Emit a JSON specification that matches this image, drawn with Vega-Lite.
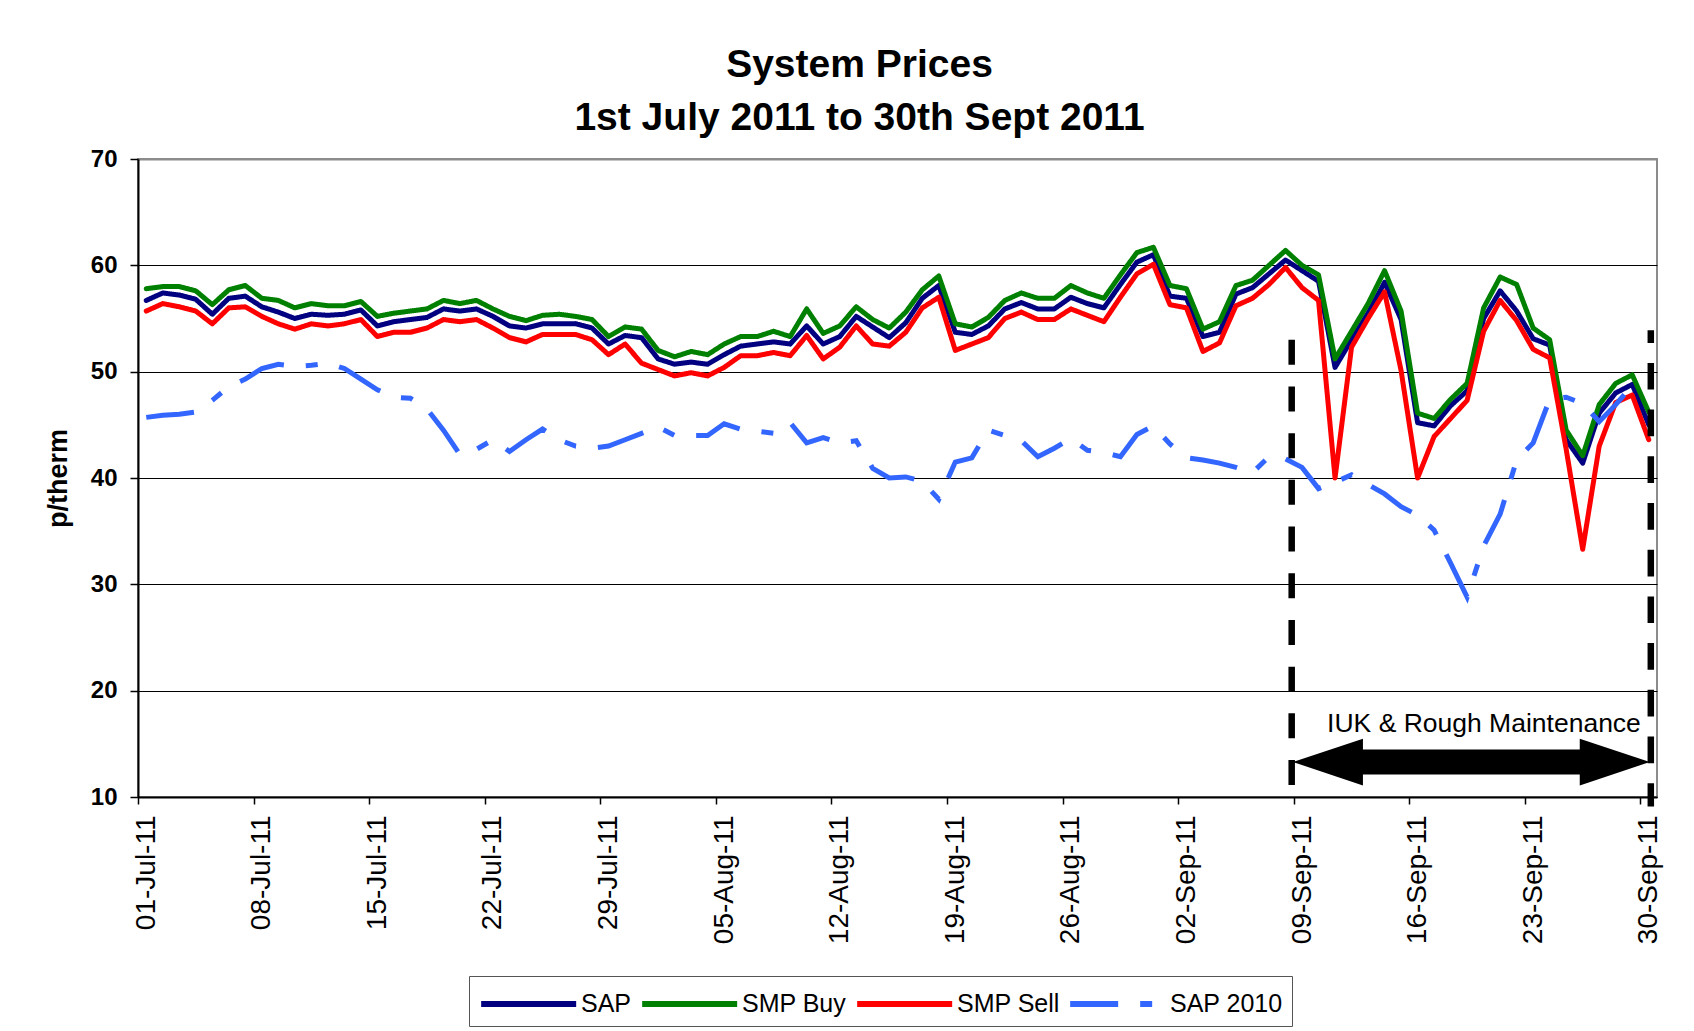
{
  "$schema": "https://vega.github.io/schema/vega-lite/v6.json",
  "width": 1519,
  "height": 638,
  "autosize": "none",
  "padding": {"left": 138, "top": 159, "right": 37, "bottom": 234},
  "background": "white",
  "config": {
    "font": "Liberation Sans",
    "view": {"stroke": "#8c8c8c", "strokeWidth": 2}
  },
  "title": {
    "text": ["System Prices", "1st July 2011 to 30th Sept 2011"],
    "font": "Liberation Sans",
    "fontSize": 39,
    "fontWeight": "bold",
    "color": "black",
    "anchor": "middle",
    "dx": -38,
    "offset": 9,
    "lineHeight": 53
  },
  "datasets": {
    "prices": [
      {"date": "2011-07-01", "SAP": 56.7, "SMP Buy": 57.8, "SMP Sell": 55.7, "SAP 2010": 45.7},
      {"date": "2011-07-02", "SAP": 57.4, "SMP Buy": 58.0, "SMP Sell": 56.4, "SAP 2010": 45.9},
      {"date": "2011-07-03", "SAP": 57.2, "SMP Buy": 58.0, "SMP Sell": 56.1, "SAP 2010": 46.0},
      {"date": "2011-07-04", "SAP": 56.8, "SMP Buy": 57.6, "SMP Sell": 55.7, "SAP 2010": 46.2},
      {"date": "2011-07-05", "SAP": 55.4, "SMP Buy": 56.3, "SMP Sell": 54.5, "SAP 2010": 47.3},
      {"date": "2011-07-06", "SAP": 56.9, "SMP Buy": 57.7, "SMP Sell": 56.0, "SAP 2010": 48.6},
      {"date": "2011-07-07", "SAP": 57.1, "SMP Buy": 58.1, "SMP Sell": 56.1, "SAP 2010": 49.3},
      {"date": "2011-07-08", "SAP": 56.1, "SMP Buy": 56.9, "SMP Sell": 55.2, "SAP 2010": 50.3},
      {"date": "2011-07-09", "SAP": 55.6, "SMP Buy": 56.7, "SMP Sell": 54.5, "SAP 2010": 50.7},
      {"date": "2011-07-10", "SAP": 55.0, "SMP Buy": 56.0, "SMP Sell": 54.0, "SAP 2010": 50.5},
      {"date": "2011-07-11", "SAP": 55.4, "SMP Buy": 56.4, "SMP Sell": 54.5, "SAP 2010": 50.6},
      {"date": "2011-07-12", "SAP": 55.3, "SMP Buy": 56.2, "SMP Sell": 54.3, "SAP 2010": 50.8},
      {"date": "2011-07-13", "SAP": 55.4, "SMP Buy": 56.2, "SMP Sell": 54.5, "SAP 2010": 50.3},
      {"date": "2011-07-14", "SAP": 55.8, "SMP Buy": 56.6, "SMP Sell": 54.9, "SAP 2010": 49.3},
      {"date": "2011-07-15", "SAP": 54.3, "SMP Buy": 55.2, "SMP Sell": 53.3, "SAP 2010": 48.3},
      {"date": "2011-07-16", "SAP": 54.7, "SMP Buy": 55.5, "SMP Sell": 53.7, "SAP 2010": 47.6},
      {"date": "2011-07-17", "SAP": 54.9, "SMP Buy": 55.7, "SMP Sell": 53.7, "SAP 2010": 47.5},
      {"date": "2011-07-18", "SAP": 55.1, "SMP Buy": 55.9, "SMP Sell": 54.1, "SAP 2010": 46.5},
      {"date": "2011-07-19", "SAP": 55.9, "SMP Buy": 56.7, "SMP Sell": 54.9, "SAP 2010": 44.5},
      {"date": "2011-07-20", "SAP": 55.7, "SMP Buy": 56.4, "SMP Sell": 54.7, "SAP 2010": 42.2},
      {"date": "2011-07-21", "SAP": 55.9, "SMP Buy": 56.7, "SMP Sell": 54.9, "SAP 2010": 42.7},
      {"date": "2011-07-22", "SAP": 55.2, "SMP Buy": 55.9, "SMP Sell": 54.1, "SAP 2010": 43.6},
      {"date": "2011-07-23", "SAP": 54.3, "SMP Buy": 55.2, "SMP Sell": 53.2, "SAP 2010": 42.5},
      {"date": "2011-07-24", "SAP": 54.1, "SMP Buy": 54.8, "SMP Sell": 52.8, "SAP 2010": 43.6},
      {"date": "2011-07-25", "SAP": 54.5, "SMP Buy": 55.3, "SMP Sell": 53.5, "SAP 2010": 44.6},
      {"date": "2011-07-26", "SAP": 54.5, "SMP Buy": 55.4, "SMP Sell": 53.5, "SAP 2010": 43.6},
      {"date": "2011-07-27", "SAP": 54.5, "SMP Buy": 55.2, "SMP Sell": 53.5, "SAP 2010": 43.0},
      {"date": "2011-07-28", "SAP": 54.1, "SMP Buy": 54.9, "SMP Sell": 53.0, "SAP 2010": 42.8},
      {"date": "2011-07-29", "SAP": 52.6, "SMP Buy": 53.3, "SMP Sell": 51.6, "SAP 2010": 43.0},
      {"date": "2011-07-30", "SAP": 53.4, "SMP Buy": 54.2, "SMP Sell": 52.6, "SAP 2010": 43.6},
      {"date": "2011-07-31", "SAP": 53.2, "SMP Buy": 54.0, "SMP Sell": 50.8, "SAP 2010": 44.2},
      {"date": "2011-08-01", "SAP": 51.2, "SMP Buy": 52.0, "SMP Sell": 50.2, "SAP 2010": 44.8},
      {"date": "2011-08-02", "SAP": 50.7, "SMP Buy": 51.4, "SMP Sell": 49.6, "SAP 2010": 44.0},
      {"date": "2011-08-03", "SAP": 50.9, "SMP Buy": 51.9, "SMP Sell": 49.9, "SAP 2010": 44.0},
      {"date": "2011-08-04", "SAP": 50.7, "SMP Buy": 51.6, "SMP Sell": 49.6, "SAP 2010": 44.0},
      {"date": "2011-08-05", "SAP": 51.6, "SMP Buy": 52.6, "SMP Sell": 50.4, "SAP 2010": 45.1},
      {"date": "2011-08-06", "SAP": 52.4, "SMP Buy": 53.3, "SMP Sell": 51.5, "SAP 2010": 44.6},
      {"date": "2011-08-07", "SAP": 52.6, "SMP Buy": 53.3, "SMP Sell": 51.5, "SAP 2010": 44.4},
      {"date": "2011-08-08", "SAP": 52.8, "SMP Buy": 53.8, "SMP Sell": 51.8, "SAP 2010": 44.2},
      {"date": "2011-08-09", "SAP": 52.6, "SMP Buy": 53.3, "SMP Sell": 51.5, "SAP 2010": 45.2},
      {"date": "2011-08-10", "SAP": 54.3, "SMP Buy": 55.9, "SMP Sell": 53.4, "SAP 2010": 43.3},
      {"date": "2011-08-11", "SAP": 52.6, "SMP Buy": 53.6, "SMP Sell": 51.2, "SAP 2010": 43.8},
      {"date": "2011-08-12", "SAP": 53.3, "SMP Buy": 54.3, "SMP Sell": 52.3, "SAP 2010": 43.3},
      {"date": "2011-08-13", "SAP": 55.2, "SMP Buy": 56.1, "SMP Sell": 54.3, "SAP 2010": 43.5},
      {"date": "2011-08-14", "SAP": 54.2, "SMP Buy": 54.9, "SMP Sell": 52.6, "SAP 2010": 40.9},
      {"date": "2011-08-15", "SAP": 53.2, "SMP Buy": 54.1, "SMP Sell": 52.4, "SAP 2010": 40.0},
      {"date": "2011-08-16", "SAP": 54.6, "SMP Buy": 55.6, "SMP Sell": 53.7, "SAP 2010": 40.1},
      {"date": "2011-08-17", "SAP": 56.9, "SMP Buy": 57.7, "SMP Sell": 56.0, "SAP 2010": 39.7},
      {"date": "2011-08-18", "SAP": 58.1, "SMP Buy": 59.0, "SMP Sell": 57.0, "SAP 2010": 38.0},
      {"date": "2011-08-19", "SAP": 53.7, "SMP Buy": 54.5, "SMP Sell": 52.0, "SAP 2010": 41.5},
      {"date": "2011-08-20", "SAP": 53.5, "SMP Buy": 54.2, "SMP Sell": 52.6, "SAP 2010": 41.9},
      {"date": "2011-08-21", "SAP": 54.3, "SMP Buy": 55.1, "SMP Sell": 53.2, "SAP 2010": 44.5},
      {"date": "2011-08-22", "SAP": 55.9, "SMP Buy": 56.7, "SMP Sell": 55.0, "SAP 2010": 44.0},
      {"date": "2011-08-23", "SAP": 56.5, "SMP Buy": 57.4, "SMP Sell": 55.6, "SAP 2010": 43.5},
      {"date": "2011-08-24", "SAP": 55.9, "SMP Buy": 56.9, "SMP Sell": 54.9, "SAP 2010": 42.0},
      {"date": "2011-08-25", "SAP": 55.9, "SMP Buy": 56.9, "SMP Sell": 54.9, "SAP 2010": 42.8},
      {"date": "2011-08-26", "SAP": 57.0, "SMP Buy": 58.1, "SMP Sell": 55.9, "SAP 2010": 43.7},
      {"date": "2011-08-27", "SAP": 56.4, "SMP Buy": 57.4, "SMP Sell": 55.3, "SAP 2010": 42.6},
      {"date": "2011-08-28", "SAP": 56.0, "SMP Buy": 56.9, "SMP Sell": 54.7, "SAP 2010": 42.4},
      {"date": "2011-08-29", "SAP": 58.2, "SMP Buy": 59.1, "SMP Sell": 57.0, "SAP 2010": 42.0},
      {"date": "2011-08-30", "SAP": 60.3, "SMP Buy": 61.2, "SMP Sell": 59.2, "SAP 2010": 44.1},
      {"date": "2011-08-31", "SAP": 61.0, "SMP Buy": 61.7, "SMP Sell": 60.1, "SAP 2010": 44.9},
      {"date": "2011-09-01", "SAP": 57.1, "SMP Buy": 58.1, "SMP Sell": 56.3, "SAP 2010": 43.2},
      {"date": "2011-09-02", "SAP": 56.9, "SMP Buy": 57.8, "SMP Sell": 56.0, "SAP 2010": 41.9},
      {"date": "2011-09-03", "SAP": 53.3, "SMP Buy": 54.0, "SMP Sell": 51.9, "SAP 2010": 41.7},
      {"date": "2011-09-04", "SAP": 53.7, "SMP Buy": 54.7, "SMP Sell": 52.7, "SAP 2010": 41.4},
      {"date": "2011-09-05", "SAP": 57.3, "SMP Buy": 58.1, "SMP Sell": 56.2, "SAP 2010": 41.0},
      {"date": "2011-09-06", "SAP": 57.9, "SMP Buy": 58.6, "SMP Sell": 56.9, "SAP 2010": 40.5},
      {"date": "2011-09-07", "SAP": 59.2, "SMP Buy": 60.0, "SMP Sell": 58.2, "SAP 2010": 42.0},
      {"date": "2011-09-08", "SAP": 60.5, "SMP Buy": 61.4, "SMP Sell": 59.8, "SAP 2010": 41.8},
      {"date": "2011-09-09", "SAP": 59.5, "SMP Buy": 60.0, "SMP Sell": 57.9, "SAP 2010": 41.0},
      {"date": "2011-09-10", "SAP": 58.5, "SMP Buy": 59.1, "SMP Sell": 56.7, "SAP 2010": 39.0},
      {"date": "2011-09-11", "SAP": 50.4, "SMP Buy": 51.2, "SMP Sell": 40.0, "SAP 2010": 39.6},
      {"date": "2011-09-12", "SAP": 53.0, "SMP Buy": 53.8, "SMP Sell": 52.3, "SAP 2010": 40.3},
      {"date": "2011-09-13", "SAP": 55.5, "SMP Buy": 56.4, "SMP Sell": 55.0, "SAP 2010": 39.4},
      {"date": "2011-09-14", "SAP": 58.4, "SMP Buy": 59.5, "SMP Sell": 57.5, "SAP 2010": 38.5},
      {"date": "2011-09-15", "SAP": 54.9, "SMP Buy": 55.7, "SMP Sell": 50.1, "SAP 2010": 37.3},
      {"date": "2011-09-16", "SAP": 45.2, "SMP Buy": 46.1, "SMP Sell": 40.0, "SAP 2010": 36.5},
      {"date": "2011-09-17", "SAP": 44.9, "SMP Buy": 45.6, "SMP Sell": 43.9, "SAP 2010": 35.1},
      {"date": "2011-09-18", "SAP": 46.8, "SMP Buy": 47.4, "SMP Sell": 45.6, "SAP 2010": 32.0},
      {"date": "2011-09-19", "SAP": 48.2, "SMP Buy": 48.9, "SMP Sell": 47.3, "SAP 2010": 28.8},
      {"date": "2011-09-20", "SAP": 55.0, "SMP Buy": 56.0, "SMP Sell": 53.8, "SAP 2010": 33.6},
      {"date": "2011-09-21", "SAP": 57.6, "SMP Buy": 58.9, "SMP Sell": 56.7, "SAP 2010": 36.6},
      {"date": "2011-09-22", "SAP": 55.7, "SMP Buy": 58.2, "SMP Sell": 54.8, "SAP 2010": 41.7},
      {"date": "2011-09-23", "SAP": 53.1, "SMP Buy": 54.1, "SMP Sell": 52.1, "SAP 2010": 43.3},
      {"date": "2011-09-24", "SAP": 52.5, "SMP Buy": 53.0, "SMP Sell": 51.3, "SAP 2010": 47.4},
      {"date": "2011-09-25", "SAP": 43.6, "SMP Buy": 44.5, "SMP Sell": 42.7, "SAP 2010": 47.6},
      {"date": "2011-09-26", "SAP": 41.4, "SMP Buy": 42.1, "SMP Sell": 33.3, "SAP 2010": 47.0},
      {"date": "2011-09-27", "SAP": 46.1, "SMP Buy": 46.9, "SMP Sell": 43.0, "SAP 2010": 45.3},
      {"date": "2011-09-28", "SAP": 48.0, "SMP Buy": 48.9, "SMP Sell": 47.1, "SAP 2010": 46.9},
      {"date": "2011-09-29", "SAP": 48.8, "SMP Buy": 49.7, "SMP Sell": 47.8, "SAP 2010": 48.7},
      {"date": "2011-09-30", "SAP": 45.0, "SMP Buy": 46.2, "SMP Sell": 43.6, "SAP 2010": null}
    ],
    "boundaries": [
      {"side": "start", "at": "2011-09-08T09:00:00Z", "top": 53.0, "bottom": 9.1},
      {"side": "end", "at": "2011-09-30T03:00:00Z", "top": 53.9, "bottom": 9.1}
    ],
    "arrow": [
      {"from": "2011-09-10T21:00:00Z", "to": "2011-09-27T15:20:00Z", "level": 13.28, "tipStart": "2011-09-08T10:50:00Z", "tipEnd": "2011-09-30T01:30:00Z"}
    ],
    "labels": [
      {"at": "2011-09-20T00:30:00Z", "level": 16.07, "text": "IUK & Rough Maintenance"}
    ]
  },
  "layer": [
    {
      "data": {"name": "prices"},
      "transform": [{"fold": ["SAP", "SMP Buy", "SMP Sell"], "as": ["series", "price"]}],
      "mark": {"type": "line", "strokeWidth": 5, "strokeJoin": "round", "strokeCap": "round"},
      "encoding": {
        "x": {
          "field": "date",
          "type": "temporal",
          "scale": {"type": "utc", "domain": [{"year": 2011, "month": "jun", "date": 30, "hours": 12, "utc": true}, {"year": 2011, "month": "sep", "date": 30, "hours": 12, "utc": true}]},
          "axis": {
            "title": null,
            "values": [
              {"year": 2011, "month": "jul", "date": 1, "utc": true},
              {"year": 2011, "month": "jul", "date": 8, "utc": true},
              {"year": 2011, "month": "jul", "date": 15, "utc": true},
              {"year": 2011, "month": "jul", "date": 22, "utc": true},
              {"year": 2011, "month": "jul", "date": 29, "utc": true},
              {"year": 2011, "month": "aug", "date": 5, "utc": true},
              {"year": 2011, "month": "aug", "date": 12, "utc": true},
              {"year": 2011, "month": "aug", "date": 19, "utc": true},
              {"year": 2011, "month": "aug", "date": 26, "utc": true},
              {"year": 2011, "month": "sep", "date": 2, "utc": true},
              {"year": 2011, "month": "sep", "date": 9, "utc": true},
              {"year": 2011, "month": "sep", "date": 16, "utc": true},
              {"year": 2011, "month": "sep", "date": 23, "utc": true},
              {"year": 2011, "month": "sep", "date": 30, "utc": true}
            ],
            "labelExpr": "utcFormat(datum.value, '%d-%b-%y')",
            "labelAngle": -90,
            "labelFontSize": 28,
            "labelColor": "black",
            "labelFont": "Liberation Sans",
            "labelPadding": 11,
            "labelOverlap": false,
            "labelBound": false,
            "labelFlush": false,
            "tickOffset": -8.25,
            "labelOffset": 8.25,
            "tickSize": 7,
            "tickColor": "black",
            "tickWidth": 1.5,
            "domainColor": "black",
            "domainWidth": 2,
            "grid": false
          }
        },
        "y": {
          "field": "price",
          "type": "quantitative",
          "scale": {"domain": [10, 70], "nice": false, "zero": false},
          "axis": {
            "title": "p/therm",
            "titleFontSize": 27,
            "titleFont": "Liberation Sans",
            "titleFontWeight": "bold",
            "titleColor": "black",
            "titleX": -80,
            "titleY": 319,
            "titleBaseline": "middle",
            "titleAngle": -90,
            "values": [10, 20, 30, 40, 50, 60, 70],
            "labelFontSize": 24,
            "labelFontWeight": "bold",
            "labelColor": "black",
            "labelFont": "Liberation Sans",
            "labelPadding": 13,
            "tickSize": 8,
            "tickColor": "black",
            "tickWidth": 1.5,
            "domainColor": "black",
            "domainWidth": 2,
            "grid": true,
            "gridColor": {"condition": {"test": "datum.value === 70", "value": "#8c8c8c"}, "value": "black"},
            "gridWidth": {"condition": {"test": "datum.value === 70", "value": 2}, "value": 1}
          }
        },
        "color": {
          "field": "series",
          "type": "nominal",
          "scale": {"domain": ["SAP", "SMP Buy", "SMP Sell", "SAP 2010"], "range": ["#000080", "#008000", "#FF0000", "#3366FF"]},
          "legend": {
            "orient": "none",
            "legendX": 331,
            "legendY": 817,
            "direction": "horizontal",
            "columns": 4,
            "title": null,
            "symbolType": "M-1,0L5,0",
            "symbolSize": 1003,
            "symbolStrokeWidth": 6,
            "labelFontSize": 25,
            "labelFont": "Liberation Sans",
            "labelColor": "black",
            "labelOffset": 65,
            "labelLimit": 0,
            "columnPadding": -2,
            "padding": 9,
            "strokeColor": "#555555",
            "fillColor": "white"
          }
        },
        "strokeDash": {
          "field": "series",
          "type": "nominal",
          "scale": {"domain": ["SAP", "SMP Buy", "SMP Sell", "SAP 2010"], "range": [[1, 0], [1, 0], [1, 0], [48, 22, 12, 22]]},
          "legend": {
            "orient": "none",
            "legendX": 331,
            "legendY": 817,
            "direction": "horizontal",
            "columns": 4,
            "title": null,
            "symbolType": "M-1,0L5,0",
            "symbolSize": 1003,
            "symbolStrokeWidth": 6,
            "labelFontSize": 25,
            "labelFont": "Liberation Sans",
            "labelColor": "black",
            "labelOffset": 65,
            "labelLimit": 0,
            "columnPadding": -2,
            "padding": 9,
            "strokeColor": "#555555",
            "fillColor": "white"
          }
        }
      }
    },
    {
      "data": {"name": "prices"},
      "transform": [
        {"fold": ["SAP 2010"], "as": ["series", "price"]},
        {"filter": "isValid(datum.price)"}
      ],
      "mark": {"type": "line", "strokeWidth": 5, "strokeJoin": "miter", "strokeCap": "butt"},
      "encoding": {
        "x": {"field": "date", "type": "temporal"},
        "y": {"field": "price", "type": "quantitative"},
        "color": {"field": "series", "type": "nominal"},
        "strokeDash": {"field": "series", "type": "nominal"}
      }
    },
    {
      "data": {"name": "boundaries"},
      "transform": [{"filter": "datum.side === 'start'"}],
      "mark": {"type": "rule", "color": "black", "strokeWidth": 6.5, "strokeDash": [25, 21.7], "strokeCap": "butt"},
      "encoding": {
        "x": {"field": "at", "type": "temporal"},
        "y": {"field": "top", "type": "quantitative"},
        "y2": {"field": "bottom"}
      }
    },
    {
      "data": {"name": "boundaries"},
      "transform": [{"filter": "datum.side === 'end'"}],
      "mark": {"type": "rule", "color": "black", "strokeWidth": 6.5, "strokeDash": [26.7, 20], "strokeDashOffset": 14, "strokeCap": "butt"},
      "encoding": {
        "x": {"field": "at", "type": "temporal"},
        "y": {"field": "top", "type": "quantitative"},
        "y2": {"field": "bottom"}
      }
    },
    {
      "data": {"name": "arrow"},
      "mark": {"type": "rule", "color": "black", "strokeWidth": 25, "strokeCap": "butt"},
      "encoding": {
        "x": {"field": "from", "type": "temporal"},
        "x2": {"field": "to"},
        "y": {"field": "level", "type": "quantitative"}
      }
    },
    {
      "data": {"name": "arrow"},
      "mark": {"type": "point", "filled": true, "color": "black", "opacity": 1, "strokeWidth": 0, "size": 4900, "shape": "M0,0L2,-0.667L2,0.667Z"},
      "encoding": {
        "x": {"field": "tipStart", "type": "temporal"},
        "y": {"field": "level", "type": "quantitative"}
      }
    },
    {
      "data": {"name": "arrow"},
      "mark": {"type": "point", "filled": true, "color": "black", "opacity": 1, "strokeWidth": 0, "size": 4900, "shape": "M0,0L-2,-0.667L-2,0.667Z"},
      "encoding": {
        "x": {"field": "tipEnd", "type": "temporal"},
        "y": {"field": "level", "type": "quantitative"}
      }
    },
    {
      "data": {"name": "labels"},
      "mark": {"type": "text", "font": "Liberation Sans", "fontSize": 26.5, "color": "black", "align": "center", "baseline": "alphabetic"},
      "encoding": {
        "x": {"field": "at", "type": "temporal"},
        "y": {"field": "level", "type": "quantitative"},
        "text": {"field": "text"}
      }
    }
  ]
}
